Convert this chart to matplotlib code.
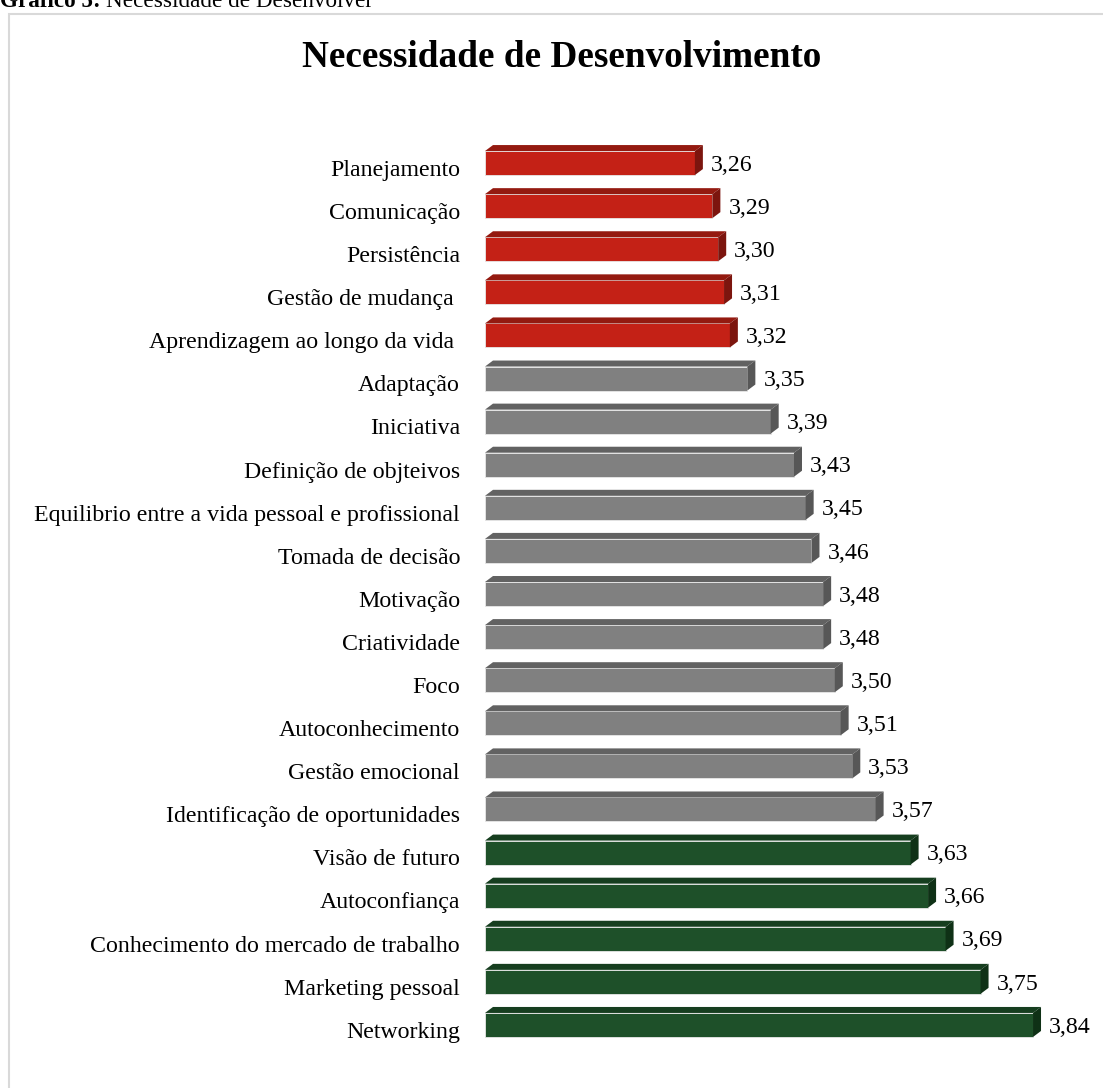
import matplotlib
matplotlib.use("Agg")
import matplotlib.pyplot as plt
from matplotlib.patches import Polygon, Rectangle

plt.rcParams['font.family'] = ['Liberation Serif', 'DejaVu Serif']

# Data
skills = ['Planejamento', 'Comunicação', 'Persistência', 'Gestão de mudança ',
          'Aprendizagem ao longo da vida ', 'Adaptação', 'Iniciativa',
          'Definição de objteivos', 'Equilibrio entre a vida pessoal e profissional',
          'Tomada de decisão', 'Motivação', 'Criatividade', 'Foco',
          'Autoconhecimento', 'Gestão emocional', 'Identificação de oportunidades',
          'Visão de futuro', 'Autoconfiança', 'Conhecimento do mercado de trabalho',
          'Marketing pessoal', 'Networking']
scores = [3.26, 3.29, 3.30, 3.31, 3.32, 3.35, 3.39, 3.43, 3.45, 3.46, 3.48,
          3.48, 3.50, 3.51, 3.53, 3.57, 3.63, 3.66, 3.69, 3.75, 3.84]
groups = ['low'] * 5 + ['mid'] * 11 + ['high'] * 5

# front, top, side colours per group
palette = {
    'low': ('#C42116', '#941A10', '#7C150E'),
    'mid': ('#808080', '#626262', '#575757'),
    'high': ('#1E5029', '#163E1F', '#0F3116'),
}

W, H = 1103, 1088
fig = plt.figure(figsize=(W / 100, H / 100), dpi=100)

# light frame around the chart (runs off the right and bottom edges)
fig.patches.append(Rectangle((9 / W, -0.1), 1.2, 1 - 14 / H + 0.1, fill=False,
                             edgecolor='#D9D9D9', lw=1.5, transform=fig.transFigure))

x0 = 2.9
ax = fig.add_axes([485 / W, 1 - 1046.5 / H, 583 / W, 905 / H])
ax.set_xlim(x0, 3.9)
ax.set_ylim(len(skills) - 0.5, -0.5)
ax.axis('off')

h = 0.557          # front face height
dx = 8 / 583       # depth offset in x (data units)
dy = 0.139         # depth offset in y (data units)
fs = 17.2

for i, (name, v, g) in enumerate(zip(skills, scores, groups)):
    front, top, side = palette[g]
    ax.barh(i, v - x0, left=x0, height=h, color=front, edgecolor='#E8E8E8',
            linewidth=0.6, zorder=2)
    yt, yb = i - h / 2, i + h / 2
    ax.add_patch(Polygon([(x0, yt), (x0 + dx, yt - dy), (v + dx, yt - dy), (v, yt)],
                         closed=True, facecolor=top, edgecolor='none', zorder=3))
    ax.add_patch(Polygon([(v, yt), (v + dx, yt - dy), (v + dx, yb - dy), (v, yb)],
                         closed=True, facecolor=side, edgecolor='none', zorder=3))
    ax.text(v + dx + 8 / 583, i + 0.05, f'{v:.2f}'.replace('.', ','),
            va='center', ha='left', fontsize=fs, color='black')
    ax.text(x0 - 25 / 583, i + 0.17, name, va='center', ha='right',
            fontsize=fs, color='black')

fig.text(562 / W, 1 - 67 / H, 'Necessidade de Desenvolvimento', ha='center',
         va='baseline', fontsize=26.8, fontweight='bold')

# caption cut off at the very top
t1 = fig.text(0.0, 1 - 7 / H, 'Gráfico 5:', ha='left', va='baseline',
              fontsize=16.7, fontweight='bold')
renderer = fig.canvas.get_renderer()
bb = t1.get_window_extent(renderer=renderer)
fig.text(bb.x1 / W + 5 / W, 1 - 7 / H, 'Necessidade de Desenvolver', ha='left',
         va='baseline', fontsize=16.7)

fig.savefig('out.png', dpi=100)
